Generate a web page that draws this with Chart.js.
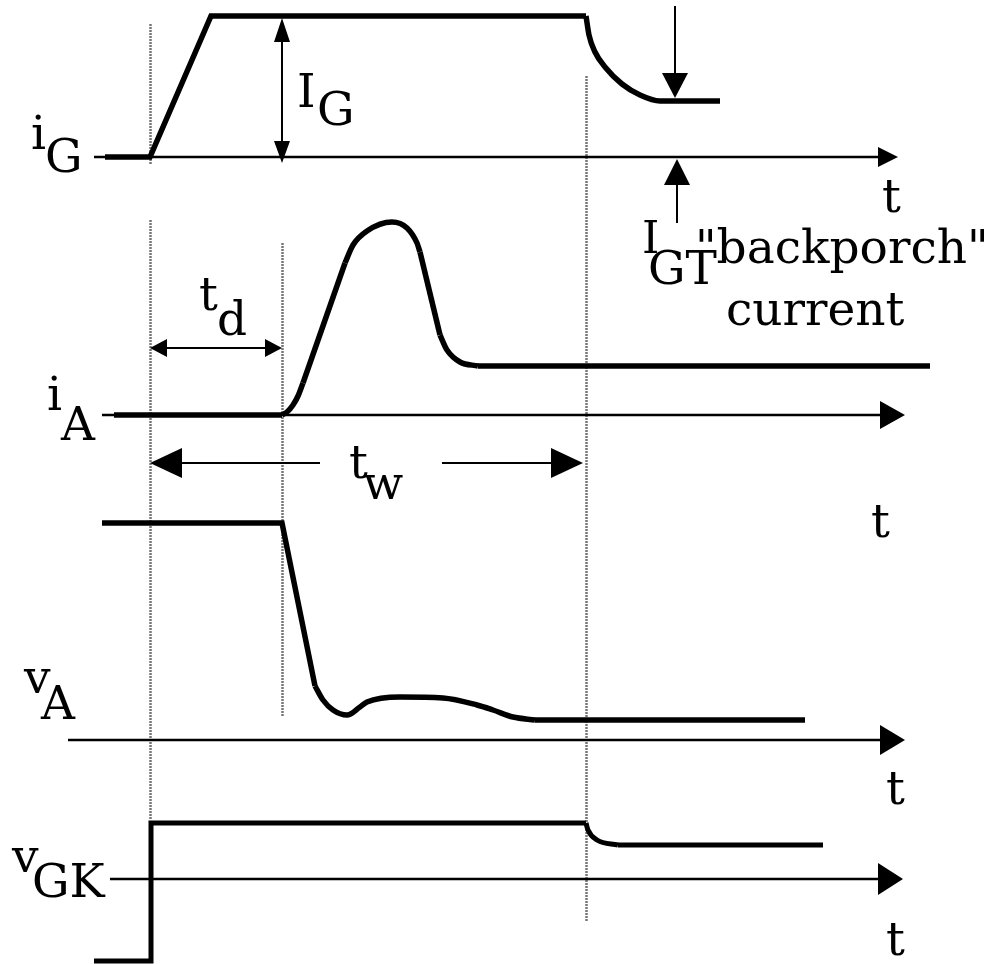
<!DOCTYPE html>
<html>
<head>
<meta charset="utf-8">
<title>SCR gate trigger waveforms</title>
<script src="https://cdn.jsdelivr.net/npm/chart.js@4.4.1/dist/chart.umd.min.js"></script>
<style>
  html, body { margin: 0; padding: 0; background: #ffffff; }
  #wrap { width: 1001px; height: 964px; position: relative; }
  canvas { display: block; }
</style>
</head>
<body>
<div id="wrap"><canvas id="c" width="1001" height="964"></canvas></div>
<script>
// Time is measured from the gate trigger instant (t = 0).
const markerTimes = [0, 132, 436];          // trigger, end of delay t_d, end of gate pulse t_w

// Gate current i_G
const gateTime    = [-45, 0, 61, 436, 439, 445, 455, 472, 490, 510, 570];
const gateCurrent = [0, 0, 141, 141, 122, 105, 90, 73, 62, 56, 56];

// Anode current i_A
const anodeCurTime = [-36, 132, 137, 143, 148, 153, 195, 203, 217, 242, 257, 267, 270, 290, 297, 310, 328, 780];
const anodeCurrent = [0, 0, 3, 10, 19, 32, 152, 170, 184, 193, 187, 172, 163, 80, 65, 53, 49, 49];

// Anode voltage v_A
const anodeVoltTime = [-48, 132, 165, 173, 183, 197, 210, 217, 250, 293, 327, 343, 363, 385, 655];
const anodeVoltage  = [217, 217, 54, 40, 30, 25, 33, 38, 43, 42, 35, 30, 23, 20, 20];

// Gate-cathode voltage v_GK
const gkTime    = [-56, 1, 1, 436, 438, 447, 468, 673];
const gkVoltage = [-82, -82, 56, 56, 49, 39, 34, 34];

// Which stretches of each trace are drawn straight (0) or as a smooth curve (1): [from, to, smooth]
const gatePieces      = [[0, 3, 0], [3, 10, 1]];
const anodeCurPieces  = [[0, 1, 0], [1, 5, 1], [5, 6, 0], [6, 12, 1], [12, 13, 0], [13, 16, 1], [16, 17, 0]];
const anodeVoltPieces = [[0, 2, 0], [2, 13, 1], [13, 14, 0]];
const gkPieces        = [[0, 3, 0], [3, 6, 1], [6, 7, 0]];

// Trace labels
const traceLabels = [
  { main: 'i', sub: 'G' },
  { main: 'i', sub: 'A' },
  { main: 'v', sub: 'A' },
  { main: 'v', sub: 'GK' }
];
const timeLabel = 't';

// ---- layout ----
const W = 1001, H = 964;
const X_MIN = -150;
const base = { yG: 157, yA: 415, yV: 740, yK: 879 };   // pixel row of each trace's zero
function traceScale(b) { return { type: 'linear', display: false, min: -(H - b), max: b }; }

const FONT = '"DejaVu Serif", serif';
const INK = '#000000';

function traceSets(ts, vs, pieces, axis, w) {
  return pieces.map(([a, b, smooth]) => ({
    data: ts.slice(a, b + 1).map((t, i) => ({ x: t, y: vs[a + i] })),
    yAxisID: axis, showLine: true,
    borderColor: INK, borderWidth: w, pointRadius: 0,
    tension: smooth ? 0.4 : 0,
    cubicInterpolationMode: smooth ? 'monotone' : 'default',
    borderJoinStyle: 'miter', borderCapStyle: 'butt', fill: false
  }));
}

function arrowHead(ctx, tipX, tipY, dir, len, half) {
  ctx.beginPath();
  if (dir === 'r') { ctx.moveTo(tipX, tipY); ctx.lineTo(tipX - len, tipY - half); ctx.lineTo(tipX - len, tipY + half); }
  if (dir === 'l') { ctx.moveTo(tipX, tipY); ctx.lineTo(tipX + len, tipY - half); ctx.lineTo(tipX + len, tipY + half); }
  if (dir === 'u') { ctx.moveTo(tipX, tipY); ctx.lineTo(tipX - half, tipY + len); ctx.lineTo(tipX + half, tipY + len); }
  if (dir === 'd') { ctx.moveTo(tipX, tipY); ctx.lineTo(tipX - half, tipY - len); ctx.lineTo(tipX + half, tipY - len); }
  ctx.closePath();
  ctx.fill();
}
function seg(ctx, x1, y1, x2, y2, w) {
  ctx.lineWidth = w;
  ctx.beginPath(); ctx.moveTo(x1, y1); ctx.lineTo(x2, y2); ctx.stroke();
}
function text(ctx, s, x, y, size) {
  ctx.font = size + 'px ' + FONT;
  ctx.fillText(s, x, y);
}

const backdrop = {
  id: 'backdrop',
  beforeDatasetsDraw(chart) {
    const ctx = chart.ctx, sx = chart.scales.x;
    const X = t => sx.getPixelForValue(t);
    ctx.save();
    // dotted time markers
    ctx.strokeStyle = '#777777';
    ctx.setLineDash([2, 1]);
    const spans = [[[24, 165], [220, 820]], [[243, 717]], [[76, 922]]];
    markerTimes.forEach((t, i) => {
      spans[i].forEach(([a, b]) => seg(ctx, Math.round(X(t)) + 0.5, a, Math.round(X(t)) + 0.5, b, 2.5));
    });
    ctx.setLineDash([]);
    // time axes with arrowheads
    ctx.strokeStyle = INK; ctx.fillStyle = INK;
    const axes = [
      { y: base.yG, from: -56, to: 748, len: 20, half: 10 },
      { y: base.yA, from: -48, to: 755, len: 25, half: 14 },
      { y: base.yV, from: -82, to: 755, len: 25, half: 15 },
      { y: base.yK, from: -40, to: 753, len: 25, half: 16 }
    ];
    axes.forEach(a => {
      seg(ctx, X(a.from), a.y, X(a.to) - a.len + 2, a.y, 2.6);
      arrowHead(ctx, X(a.to), a.y, 'r', a.len, a.half);
    });
    ctx.restore();
  },
  afterDatasetsDraw(chart) {
    const ctx = chart.ctx, sx = chart.scales.x;
    const X = t => sx.getPixelForValue(t);
    ctx.save();
    ctx.strokeStyle = INK; ctx.fillStyle = INK;
    ctx.textBaseline = 'alphabetic';

    // I_G amplitude arrow
    const xg = X(markerTimes[1]);
    seg(ctx, xg, 38, xg, 145, 2);
    arrowHead(ctx, xg, 18, 'u', 24, 8);
    arrowHead(ctx, xg, 163, 'd', 22, 8);
    text(ctx, 'I', 297, 107, 47);
    text(ctx, 'G', 317, 125, 47);

    // backporch current arrows
    const xb = X(525), xb2 = X(527);
    seg(ctx, xb, 6, xb, 75, 2);
    arrowHead(ctx, xb, 98, 'd', 25, 13);
    seg(ctx, xb2, 182, xb2, 223, 2);
    arrowHead(ctx, xb2, 159, 'u', 26, 13);
    text(ctx, 'I', 642, 253, 44);
    text(ctx, 'GT', 648, 284, 47);
    text(ctx, '"backporch"', 695, 263, 47);
    text(ctx, 'current', 726, 325, 47);

    // t_d delay arrow
    const xd0 = X(markerTimes[0]), xd1 = X(markerTimes[1]);
    seg(ctx, xd0 + 12, 348, xd1 - 12, 348, 2);
    arrowHead(ctx, xd0, 348, 'l', 17, 9);
    arrowHead(ctx, xd1, 348, 'r', 17, 9);
    text(ctx, 't', 199, 310, 47);
    text(ctx, 'd', 217, 335, 47);

    // t_w pulse width arrow
    const xw1 = X(markerTimes[2]) - 3;
    seg(ctx, xd0 + 25, 463, 320, 463, 2);
    seg(ctx, 442, 463, xw1 - 25, 463, 2);
    arrowHead(ctx, xd0, 463, 'l', 32, 15);
    arrowHead(ctx, xw1, 463, 'r', 32, 15);
    text(ctx, 't', 349, 478, 47);
    text(ctx, 'w', 363, 499, 47);

    // trace labels
    const lab = [
      { mx: 31, my: 149, sx: 45, sy: 172 },
      { mx: 47, my: 410, sx: 61, sy: 440 },
      { mx: 24, my: 693, sx: 41, sy: 719 },
      { mx: 12, my: 872, sx: 32, sy: 897 }
    ];
    traceLabels.forEach((l, i) => {
      text(ctx, l.main, lab[i].mx, lab[i].my, 47);
      text(ctx, l.sub, lab[i].sx, lab[i].sy, 47);
    });

    // time-axis letters
    [[882, 212], [871, 537], [886, 804], [886, 955]].forEach(([x, y]) => text(ctx, timeLabel, x, y, 47));
    ctx.restore();
  }
};

new Chart(document.getElementById('c'), {
  type: 'scatter',
  data: {
    datasets: [
      ...traceSets(gateTime, gateCurrent, gatePieces, 'yG', 5.5),
      ...traceSets(anodeCurTime, anodeCurrent, anodeCurPieces, 'yA', 5.5),
      ...traceSets(anodeVoltTime, anodeVoltage, anodeVoltPieces, 'yV', 5.5),
      ...traceSets(gkTime, gkVoltage, gkPieces, 'yK', 5)
    ]
  },
  options: {
    responsive: false,
    animation: false,
    events: [],
    layout: { padding: 0 },
    plugins: { legend: { display: false }, tooltip: { enabled: false } },
    scales: {
      x: { type: 'linear', display: false, min: X_MIN, max: X_MIN + W },
      yG: traceScale(base.yG),
      yA: traceScale(base.yA),
      yV: traceScale(base.yV),
      yK: traceScale(base.yK)
    }
  },
  plugins: [backdrop]
});
</script>
</body>
</html>
